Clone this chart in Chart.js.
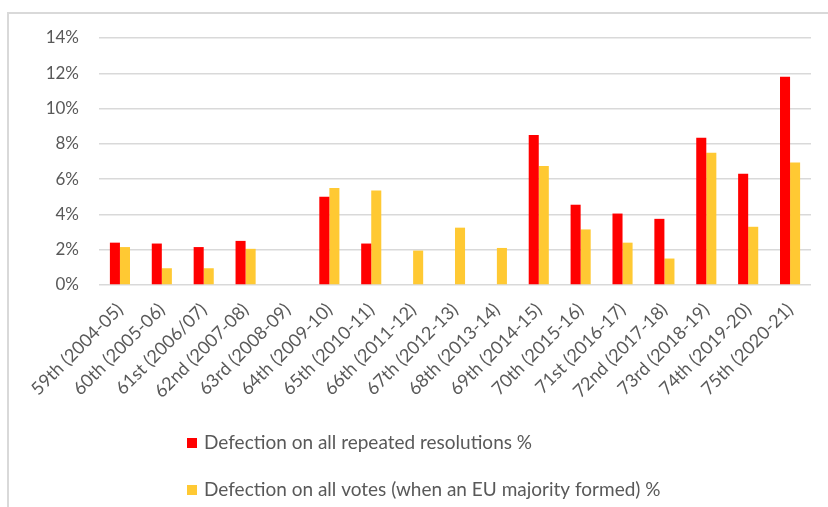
<!DOCTYPE html>
<html>
<head>
<meta charset="utf-8">
<script src="https://cdn.jsdelivr.net/npm/chart.js@4.4.0/dist/chart.umd.min.js"></script>
<style>
  html, body { margin: 0; padding: 0; background: #fff; }
  #wrap { position: relative; width: 828px; height: 507px; overflow: hidden; }
  #frame { position: absolute; left: 7px; top: 12px; width: 900px; height: 600px;
           border-left: 2px solid #d9d9d9; border-top: 2px solid #d9d9d9; }
  canvas { position: absolute; left: 0; top: 0; }
</style>
</head>
<body>
<div id="wrap">
  <div id="frame"></div>
  <canvas id="chartCanvas" width="828" height="507"></canvas>
</div>
<script>
const sessions = ['59th (2004-05)', '60th (2005-06)', '61st (2006/07)', '62nd (2007-08)', '63rd (2008-09)',
  '64th (2009-10)', '65th (2010-11)', '66th (2011-12)', '67th (2012-13)', '68th (2013-14)',
  '69th (2014-15)', '70th (2015-16)', '71st (2016-17)', '72nd (2017-18)', '73rd (2018-19)',
  '74th (2019-20)', '75th (2020-21)'];
const repeatedResolutions = [2.4, 2.35, 2.15, 2.5, null, 5.0, 2.35, null, null, null, 8.5, 4.55, 4.05, 3.75, 8.35, 6.3, 11.8];
const allVotes = [2.15, 0.95, 0.95, 2.05, null, 5.5, 5.35, 1.95, 3.25, 2.1, 6.75, 3.15, 2.4, 1.5, 7.5, 3.3, 6.95];
const yTicks = [0, 2, 4, 6, 8, 10, 12, 14];

const labelColor = '#595959';

// legend drawn one item per line, left aligned, like the original
const stackedLegend = {
  id: 'stackedLegend',
  afterDraw(chart) {
    const ctx = chart.ctx;
    ctx.save();
    chart.data.datasets.forEach((ds, i) => {
      const y = 443 + i * 47;
      ctx.fillStyle = ds.backgroundColor;
      ctx.fillRect(187, y - 5, 10, 10);
      ctx.fillStyle = labelColor;
      ctx.font = '19px Lato';
      ctx.textBaseline = 'middle';
      ctx.textAlign = 'left';
      ctx.fillText(ds.label, 204, y);
    });
    ctx.restore();
  }
};

const ctx = document.getElementById('chartCanvas').getContext('2d');
new Chart(ctx, {
  type: 'bar',
  data: {
    labels: sessions,
    datasets: [{
      label: 'Defection on all repeated resolutions %',
      data: repeatedResolutions,
      backgroundColor: '#ff0000'
    }, {
      label: 'Defection on all votes (when an EU majority formed) %',
      data: allVotes,
      backgroundColor: '#ffc933'
    }]
  },
  options: {
    responsive: false,
    animation: false,
    layout: { padding: { top: 38, right: 17, left: 0, bottom: 0 } },
    datasets: { bar: { categoryPercentage: 0.48, barPercentage: 1 } },
    plugins: {
      legend: { display: false },
      tooltip: { enabled: false }
    },
    scales: {
      x: {
        grid: { display: false },
        border: { display: false },
        ticks: {
          color: labelColor,
          font: { family: 'Lato', size: 18 },
          minRotation: 45,
          maxRotation: 45,
          autoSkip: false,
          padding: 6
        },
        afterFit(scale) { scale.height = 222; }
      },
      y: {
        min: 0,
        max: 14,
        afterBuildTicks(scale) { scale.ticks = yTicks.map(v => ({ value: v })); },
        grid: { color: '#d9d9d9', lineWidth: 1.5, drawTicks: false },
        border: { display: false },
        ticks: {
          color: labelColor,
          font: { family: 'Lato', size: 17 },
          padding: 20,
          callback: v => v + '%'
        },
        afterFit(scale) { scale.width = 99; }
      }
    }
  },
  plugins: [stackedLegend]
});
</script>
</body>
</html>
